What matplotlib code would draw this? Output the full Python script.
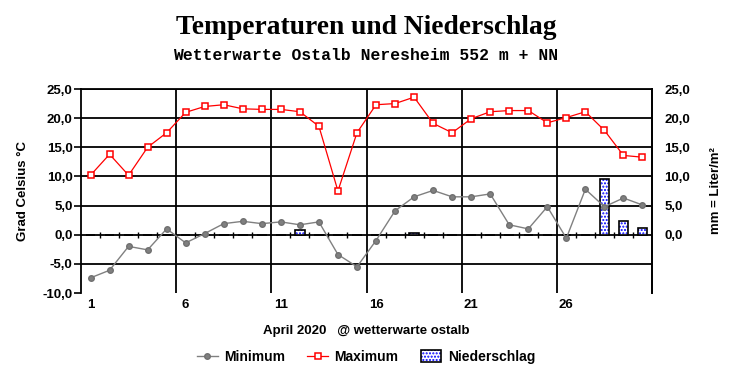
import matplotlib
matplotlib.use('Agg')
import matplotlib.pyplot as plt
from matplotlib.ticker import FuncFormatter
from matplotlib.legend_handler import HandlerTuple

days = list(range(1, 31))
t_min = [-7.4, -6.1, -2.0, -2.6, 1.0, -1.4, 0.2, 1.9, 2.3, 1.9,
         2.2, 1.7, 2.2, -3.4, -5.5, -1.0, 4.1, 6.5, 7.6, 6.5,
         6.5, 7.0, 1.7, 1.0, 4.8, -0.6, 7.8, 4.8, 6.3, 5.1]
t_max = [10.2, 13.8, 10.2, 15.0, 17.5, 21.0, 22.0, 22.3, 21.6, 21.5,
         21.5, 21.1, 18.6, 7.5, 17.5, 22.3, 22.5, 23.6, 19.1, 17.5,
         19.9, 21.1, 21.3, 21.3, 19.2, 20.1, 21.1, 17.9, 13.6, 13.3]
rain = [0, 0, 0, 0, 0, 0, 0, 0, 0, 0,
        0, 0.8, 0, 0, 0, 0, 0, 0.3, 0, 0,
        0, 0, 0, 0, 0, 0, 0, 9.6, 2.4, 1.2]
xtick_days = [1, 6, 11, 16, 21, 26]

bold = dict(family='Liberation Sans', weight='bold')
comma = FuncFormatter(lambda v, p: f'{v:.1f}'.replace('.', ','))

fig = plt.figure(figsize=(7.32, 3.8), dpi=100)
ax = fig.add_axes([81 / 732, 1 - 293 / 380, 571 / 732, 204 / 380])
ax.set_xlim(0.5, 30.5)
ax.set_ylim(-10, 25)

# grid
for y in range(-5, 26, 5):
    ax.axhline(y, color='black', lw=1.3, zorder=1)
for x in [5.5, 10.5, 15.5, 20.5, 25.5]:
    ax.axvline(x, color='black', lw=1.3, zorder=1)
bounds = [d + 0.5 for d in days[:-1] if d % 5 != 0]
ax.plot(bounds, [0] * len(bounds), ls='none', marker='|', ms=4, mew=1,
        color='black', zorder=1)

# precipitation bars: blue dotted fill plus black outline
b1 = ax.bar(days, rain, width=0.5, color='white', edgecolor='#0000ff',
            hatch='.....', lw=0, zorder=2)
b2 = ax.bar(days, rain, width=0.5, fill=False, edgecolor='black', lw=1.2, zorder=2)

l_min, = ax.plot(days, t_min, color='#808080', lw=1, marker='o', ms=4,
                 mfc='#808080', mec='#707070', zorder=3)
l_max, = ax.plot(days, t_max, color='red', lw=0.9, marker='s', ms=4.5,
                 mfc='white', mec='red', mew=1.1, zorder=4)

ax.spines['bottom'].set_visible(False)
for s in ['left', 'right', 'top']:
    ax.spines[s].set_linewidth(1.3)

ax.set_yticks(range(-10, 26, 5))
ax.yaxis.set_major_formatter(comma)
ax.tick_params(axis='y', length=5, width=1.2, pad=1)
ax.set_xticks(xtick_days)
ax.tick_params(axis='x', length=0, pad=4)
for lab in ax.get_xticklabels() + ax.get_yticklabels():
    lab.set_fontproperties(bold)
    lab.set_fontsize(9.5)

ax2 = ax.twinx()
ax2.set_ylim(-10, 25)
ax2.set_yticks(range(0, 26, 5))
ax2.yaxis.set_major_formatter(comma)
ax2.tick_params(axis='y', length=0, pad=9)
for s in ['bottom', 'top', 'left']:
    ax2.spines[s].set_visible(False)
ax2.spines['right'].set_linewidth(1.3)
for lab in ax2.get_yticklabels():
    lab.set_fontproperties(bold)
    lab.set_fontsize(9.5)

ax.set_ylabel('Grad Celsius °C', fontsize=9.5, labelpad=10, **bold)
ax2.set_ylabel('mm = Liter/m²', fontsize=9.5, labelpad=14, **bold)

fig.text(0.5, 1 - 28 / 380, 'Temperaturen und Niederschlag', ha='center', va='center',
         family='Liberation Serif', weight='bold', fontsize=19.8)
fig.text(0.5, 1 - 55 / 380, 'Wetterwarte Ostalb Neresheim 552 m + NN', ha='center',
         va='center', family='Liberation Mono', weight='bold', fontsize=11.8)
fig.text(0.5, 1 - 331 / 380, 'April 2020   @ wetterwarte ostalb', ha='center',
         va='center', fontsize=9.5, **bold)

fig.legend([l_min, l_max, (b1, b2)], ['Minimum', 'Maximum', 'Niederschlag'],
           handler_map={tuple: HandlerTuple(ndivide=1)},
           loc='center', bbox_to_anchor=(0.5, 1 - 357 / 380), ncol=3, frameon=False,
           prop=dict(family='Liberation Sans', weight='bold', size=10),
           handlelength=1.5, columnspacing=1.6, handletextpad=0.45, handleheight=0.9)

fig.savefig('out.png', dpi=100)
